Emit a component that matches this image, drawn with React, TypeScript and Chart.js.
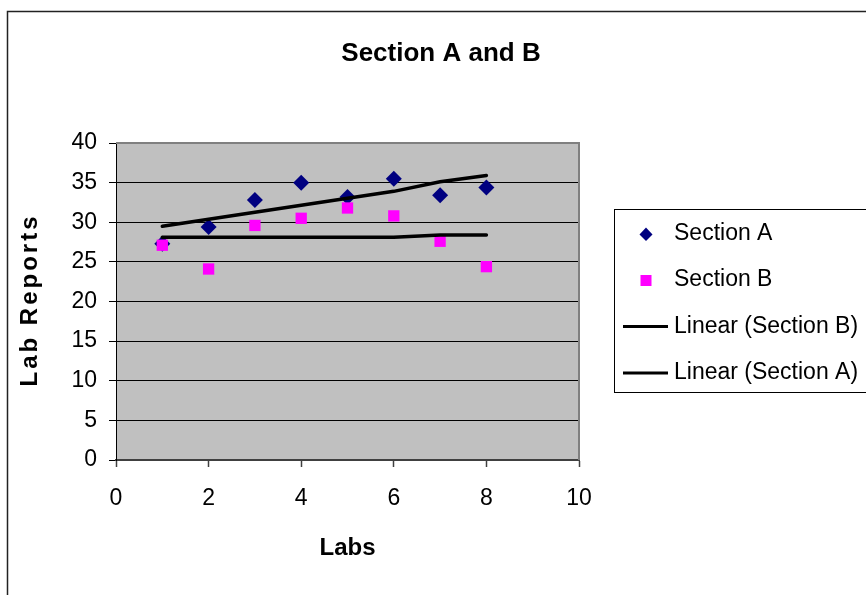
import React, { useEffect, useRef } from 'react';
import { Chart, registerables } from 'chart.js';

Chart.register(...registerables);

const chartTitle = 'Section A and B';
const xAxisTitle = 'Labs';
const yAxisTitle = 'Lab Reports';

const labs = [1, 2, 3, 4, 5, 6, 7, 8];
const sectionA = [27.3, 29.4, 32.8, 35.0, 33.2, 35.5, 33.4, 34.4];
const sectionB = [27.1, 24.1, 29.6, 30.5, 31.8, 30.8, 27.6, 24.4];

const trendLabsA = [1, 6, 7, 8];
const trendA = [29.5, 33.9, 35.1, 35.9];
const trendLabsB = [1, 6, 7, 8];
const trendB = [28.1, 28.1, 28.4, 28.4];

const xMin = 0;
const xMax = 10;
const xStep = 2;
const yMin = 0;
const yMax = 40;
const yStep = 5;

const legendLabels = ['Section A', 'Section B', 'Linear (Section B)', 'Linear (Section A)'];

const FONT = "'Liberation Sans', Arial, sans-serif";
const NAVY = '#000080';
const PINK = '#FF00FF';

const decor = {
  id: 'decor',
  beforeDraw(chart: any) {
    const { ctx, chartArea: a } = chart;
    ctx.save();
    ctx.fillStyle = '#ffffff';
    ctx.fillRect(0, 0, chart.width, chart.height);
    ctx.fillStyle = '#C0C0C0';
    ctx.fillRect(a.left, a.top, a.right - a.left, a.bottom - a.top);
    ctx.restore();
  },
  afterDraw(chart: any) {
    const { ctx, chartArea: a } = chart;
    ctx.save();
    // outer chart border
    ctx.strokeStyle = '#222';
    ctx.lineWidth = 1.5;
    ctx.strokeRect(7.5, 11.5, 1000, 1000);

    // plot area top/right border
    ctx.strokeStyle = '#808080';
    ctx.lineWidth = 2;
    ctx.beginPath();
    ctx.moveTo(a.left, a.top);
    ctx.lineTo(a.right, a.top);
    ctx.lineTo(a.right, a.bottom);
    ctx.stroke();

    // title
    ctx.fillStyle = '#000';
    ctx.font = `bold 26px ${FONT}`;
    ctx.textAlign = 'center';
    ctx.textBaseline = 'middle';
    ctx.fillText(chartTitle, 441, 54);

    // y axis title
    ctx.save();
    ctx.translate(30, 300);
    ctx.rotate(-Math.PI / 2);
    ctx.font = `bold 24px ${FONT}`;
    (ctx as any).letterSpacing = '3px';
    ctx.textAlign = 'center';
    ctx.textBaseline = 'middle';
    ctx.fillText(yAxisTitle, 0, 0);
    ctx.restore();

    // legend
    ctx.strokeStyle = '#000';
    ctx.lineWidth = 1;
    ctx.strokeRect(614.5, 209.5, 400, 183);
    const rows = [234, 280, 326.5, 373];
    ctx.font = `23px ${FONT}`;
    ctx.textAlign = 'left';
    ctx.textBaseline = 'middle';
    legendLabels.forEach((label, i) => {
      const y = rows[i];
      if (i === 0) {
        ctx.fillStyle = NAVY;
        ctx.beginPath();
        ctx.moveTo(646, y - 6.5);
        ctx.lineTo(652.5, y + 0.5);
        ctx.lineTo(646, y + 7);
        ctx.lineTo(639.5, y + 0.5);
        ctx.closePath();
        ctx.fill();
      } else if (i === 1) {
        ctx.fillStyle = PINK;
        ctx.fillRect(640.5, y - 5, 11, 11);
      } else {
        ctx.strokeStyle = '#000';
        ctx.lineWidth = 3;
        ctx.beginPath();
        ctx.moveTo(623, y);
        ctx.lineTo(668, y);
        ctx.stroke();
      }
      ctx.fillStyle = '#000';
      ctx.fillText(label, 674, y);
    });
    ctx.restore();
  },
};

export default function App() {
  const canvasRef = useRef<HTMLCanvasElement | null>(null);

  useEffect(() => {
    const canvas = canvasRef.current;
    if (!canvas) return;
    const chart = new Chart(canvas, {
      type: 'scatter',
      data: {
        datasets: [
          {
            type: 'line',
            label: 'Linear (Section B)',
            data: trendLabsB.map((x, i) => ({ x, y: trendB[i] })),
            borderColor: '#000',
            borderWidth: 3.5,
            borderCapStyle: 'round',
            pointRadius: 0,
            fill: false,
            tension: 0,
            order: 0,
          },
          {
            type: 'line',
            label: 'Linear (Section A)',
            data: trendLabsA.map((x, i) => ({ x, y: trendA[i] })),
            borderColor: '#000',
            borderWidth: 3.5,
            borderCapStyle: 'round',
            pointRadius: 0,
            fill: false,
            tension: 0,
            order: 0,
          },
          {
            label: 'Section B',
            data: labs.map((x, i) => ({ x, y: sectionB[i] })),
            pointStyle: 'rect',
            pointRadius: 8,
            pointBorderWidth: 0,
            borderWidth: 0,
            backgroundColor: PINK,
            borderColor: PINK,
            order: 1,
          },
          {
            label: 'Section A',
            data: labs.map((x, i) => ({ x, y: sectionA[i] })),
            pointStyle: 'rectRot',
            pointRadius: 8,
            pointBorderWidth: 0,
            borderWidth: 0,
            backgroundColor: NAVY,
            borderColor: NAVY,
            order: 2,
          },
        ],
      },
      options: {
        animation: false,
        responsive: false,
        maintainAspectRatio: false,
        devicePixelRatio: 1,
        layout: { padding: { left: 0, top: 143, right: 287, bottom: 0 } },
        plugins: {
          legend: { display: false },
          title: { display: false },
          tooltip: { enabled: false },
        },
        scales: {
          x: {
            type: 'linear',
            min: xMin,
            max: xMax,
            afterFit: (s: any) => {
              s.height = 135;
            },
            ticks: {
              stepSize: xStep,
              color: '#000',
              font: { family: FONT, size: 23 },
              padding: 18,
            },
            grid: {
              drawOnChartArea: false,
              drawTicks: true,
              tickLength: 7,
              tickColor: '#404040',
              tickWidth: 1.5,
            },
            border: { display: true, color: '#404040', width: 2 },
            title: {
              display: true,
              text: xAxisTitle,
              color: '#000',
              font: { family: FONT, size: 24, weight: 'bold' },
              padding: { top: 0, bottom: 32 },
            },
          },
          y: {
            type: 'linear',
            min: yMin,
            max: yMax,
            afterFit: (s: any) => {
              s.width = 116;
            },
            ticks: {
              stepSize: yStep,
              color: '#000',
              font: { family: FONT, size: 23 },
              padding: 12,
            },
            grid: {
              drawOnChartArea: true,
              drawTicks: true,
              tickLength: 7,
              color: (c: any) => (c.tick && c.tick.value === yMax ? 'rgba(0,0,0,0)' : '#000'),
              tickColor: '#000',
              lineWidth: 1,
            },
            border: { display: true, color: '#000', width: 1 },
          },
        },
      },
      plugins: [decor],
    });
    return () => chart.destroy();
  }, []);

  return (
    <div style={{ position: 'absolute', left: 0, top: 0, width: 866, height: 595 }}>
      <canvas ref={canvasRef} width={866} height={595} style={{ display: 'block', width: 866, height: 595 }} />
    </div>
  );
}
